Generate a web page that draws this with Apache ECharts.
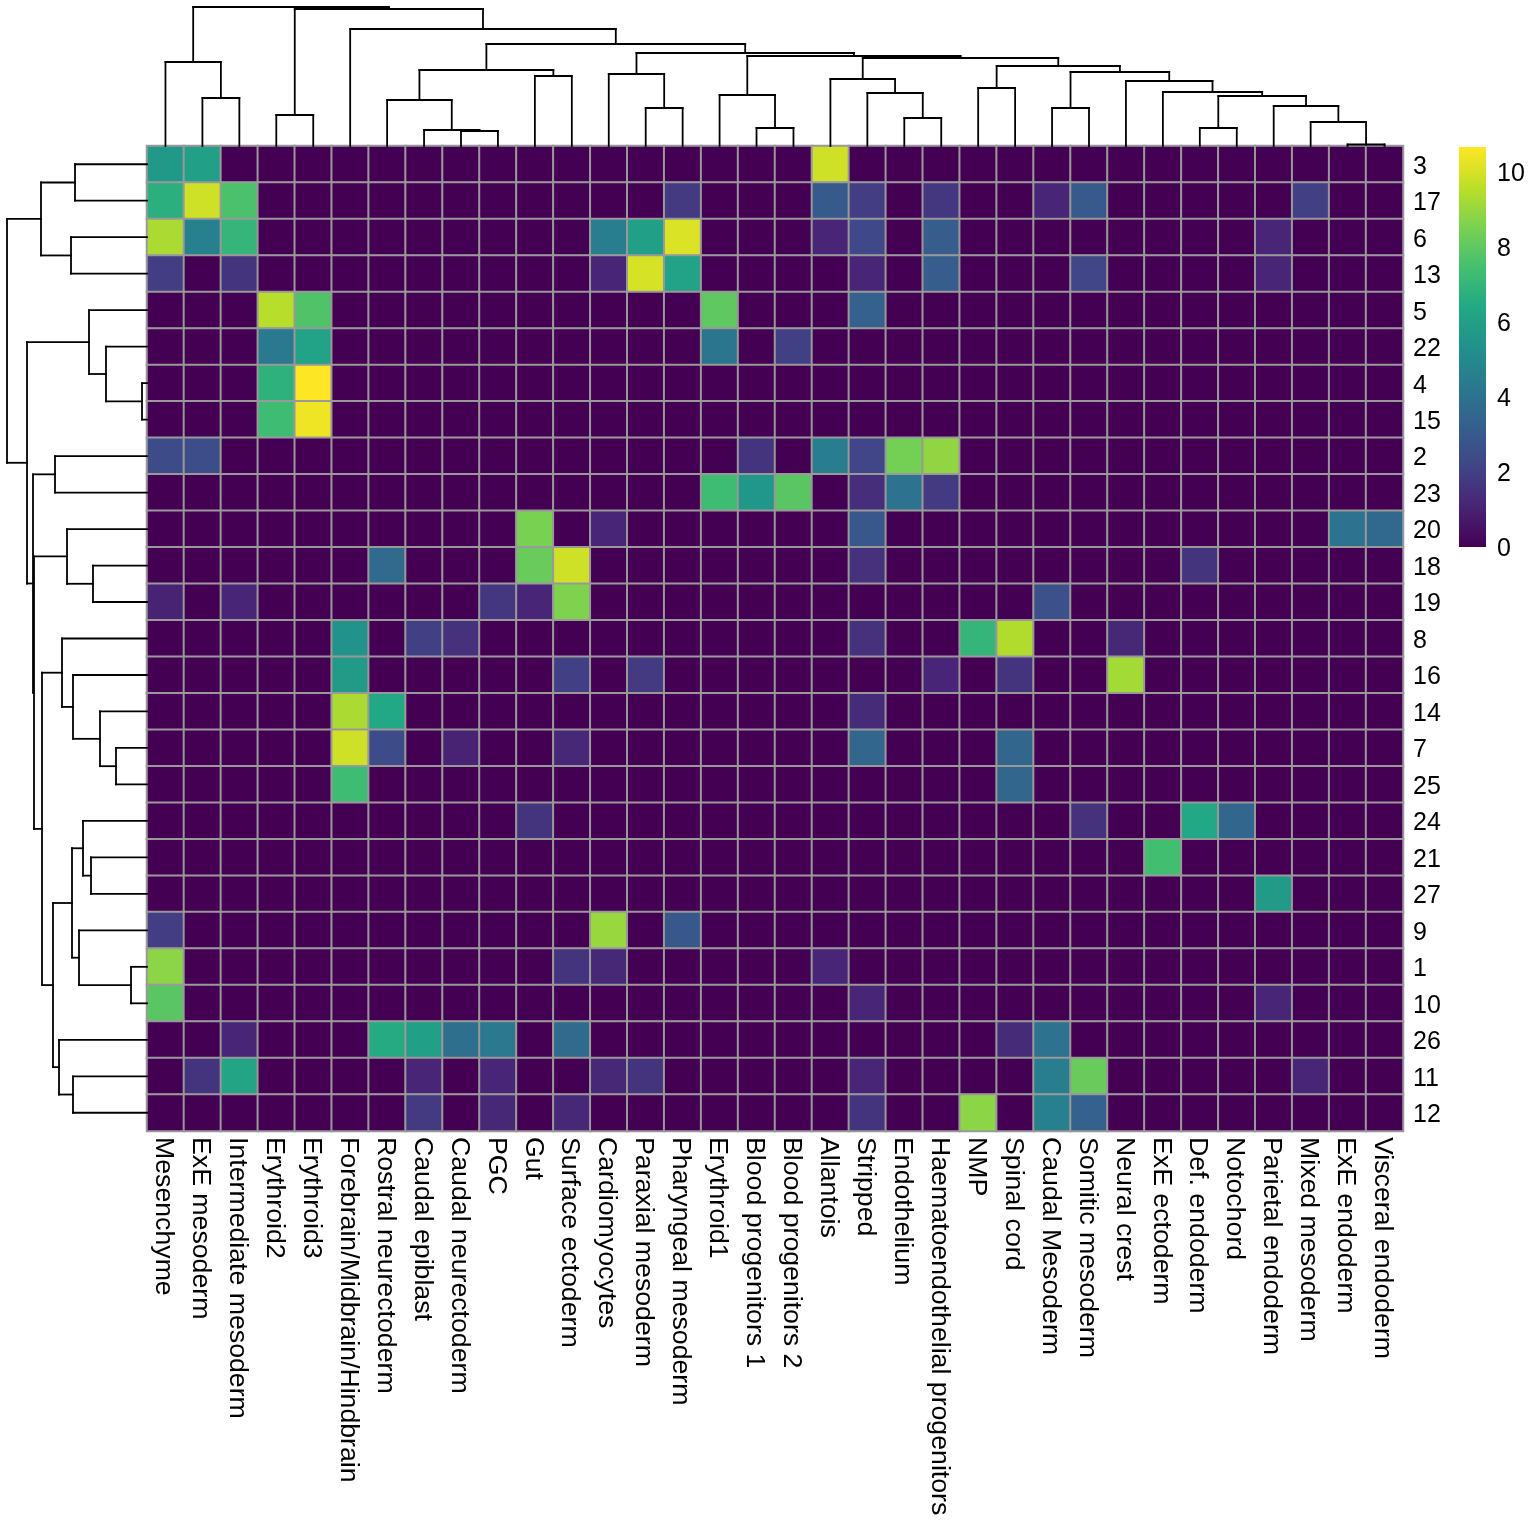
<!DOCTYPE html>
<html>
<head>
<meta charset="utf-8">
<title>Cluster heatmap</title>
<script src="https://cdn.jsdelivr.net/npm/echarts@6/dist/echarts.min.js"></script>
<style>
  html, body { margin: 0; background: #fff; }
  #chart { width: 1536px; height: 1536px; }
</style>
</head>
<body>
<div id="chart"></div>
<script>
// column and row labels, in drawing order
const colLabels = ['Mesenchyme','ExE mesoderm','Intermediate mesoderm','Erythroid2','Erythroid3',
  'Forebrain/Midbrain/Hindbrain','Rostral neurectoderm','Caudal epiblast','Caudal neurectoderm','PGC',
  'Gut','Surface ectoderm','Cardiomyocytes','Paraxial mesoderm','Pharyngeal mesoderm','Erythroid1',
  'Blood progenitors 1','Blood progenitors 2','Allantois','Stripped','Endothelium',
  'Haematoendothelial progenitors','NMP','Spinal cord','Caudal Mesoderm','Somitic mesoderm',
  'Neural crest','ExE ectoderm','Def. endoderm','Notochord','Parietal endoderm','Mixed mesoderm',
  'ExE endoderm','Visceral endoderm'];
const rowLabels = ['3','17','6','13','5','22','4','15','2','23','20','18','19','8','16','14','7','25',
  '24','21','27','9','1','10','26','11','12'];

// non zero cells of each row as [column index, value], everything else is 0
const rowCells = [
  [[0,5.7],[1,6.0],[18,9.9]],
  [[0,6.7],[1,9.9],[2,7.6],[14,1.8],[18,3.0],[19,1.9],[21,1.7],[24,1.1],[25,3.0],[31,2.0]],
  [[0,9.3],[1,4.6],[2,7.0],[12,4.5],[13,6.0],[14,10.1],[18,1.1],[19,2.3],[21,3.1],[30,1.1]],
  [[0,1.9],[2,1.6],[12,1.1],[13,10.0],[14,6.1],[19,1.1],[21,3.1],[25,2.2],[30,1.1]],
  [[3,9.5],[4,7.7],[15,8.0],[19,3.3]],
  [[3,4.3],[4,6.1],[15,4.2],[17,2.0]],
  [[3,6.8],[4,10.66]],
  [[3,7.3],[4,10.45]],
  [[0,2.4],[1,2.5],[16,1.6],[18,4.5],[19,2.2],[20,8.4],[21,8.9]],
  [[15,7.3],[16,5.6],[17,7.9],[19,1.4],[20,4.0],[21,1.8]],
  [[10,8.5],[12,1.1],[19,2.9],[32,4.0],[33,3.6]],
  [[6,3.7],[10,8.2],[11,9.9],[19,1.5],[28,1.6]],
  [[0,1.0],[2,1.1],[9,1.7],[10,1.1],[11,8.6],[24,2.6]],
  [[5,5.4],[7,2.0],[8,1.5],[19,1.5],[22,7.0],[23,9.4],[26,1.2]],
  [[5,5.8],[11,2.0],[13,1.8],[21,1.1],[23,1.6],[26,9.2]],
  [[5,9.3],[6,6.4],[19,1.3]],
  [[5,9.9],[6,2.4],[8,1.0],[11,1.2],[19,3.5],[23,3.5]],
  [[5,7.3],[23,3.5]],
  [[10,1.6],[25,1.5],[28,6.4],[29,3.5]],
  [[27,7.4]],
  [[30,5.8]],
  [[0,1.9],[12,9.0],[14,2.9]],
  [[0,8.8],[11,1.6],[12,1.2],[18,1.1]],
  [[0,7.9],[19,1.1],[30,1.1]],
  [[2,1.1],[6,6.5],[7,6.0],[8,3.9],[9,4.3],[11,3.7],[23,1.3],[24,4.0]],
  [[1,1.6],[2,6.2],[7,1.1],[9,1.1],[12,1.2],[13,1.6],[19,1.1],[24,4.5],[25,8.2],[31,1.1]],
  [[7,1.8],[9,1.2],[11,1.2],[19,1.6],[22,8.8],[24,4.6],[25,3.3]]
];

// dendrograms as nested [height, left, right], a plain number is a leaf index
const colTree = [139,
  [84, 0, [48, 1, 2]],
  [137,
    [31, 3, 4],
    [117, 5,
      [102,
        [76, [46, 6, [16, 7, [15, 8, 9]]], [70, 10, 11]],
        [93,
          [72, 12, [38, 13, 14]],
          [90,
            [51, 15, [18, 16, 17]],
            [88,
              [67, 18, [53, 19, [28, 20, 21]]],
              [80,
                [58, 22, 23],
                [74,
                  [38, 24, 25],
                  [65, 26,
                    [54, 27,
                      [50, [18, 28, 29],
                        [40, 30, [24, 31, [1.5, 32, 33]]]]]]]]]]]]]]];
const rowTree = [140,
  [106, [72, 0, 1], [76, 2, 3]],
  [120,
    [58, 4, [41, 5, [5, 6, 7]]],
    [114,
      [92, 8, 9],
      [113,
        [80, 10, [54, 11, 12]],
        [105,
          [85, 13, [74, 14, [47, 15, [31, 16, 17]]]],
          [94,
            [75, [64, 18, [56, 19, 20]], [68, 21, [16, 22, 23]]],
            [88, 24, [74, 25, 26]]]]]]]];

const viridis = ['#440154','#482475','#414487','#355f8d','#2a788e','#21918c','#22a884','#44bf70','#7ad151','#bddf26','#fde725'];
const colorMax = 10.66;
const colorTicks = [0, 2, 4, 6, 8, 10];

// heatmap box and text settings
const box = { left: 147, top: 146, width: 1256, height: 985 };
const labelFont = { fontFamily: 'Liberation Sans', fontSize: 25, color: '#000' };

const cellData = [];
rowLabels.forEach((r, i) => {
  colLabels.forEach((c, j) => {
    const hit = rowCells[i].find(d => d[0] === j);
    cellData.push([j, i, hit ? hit[1] : 0]);
  });
});

// walk a tree and collect the three segments of each merge
function treeSegments(node, out) {
  if (typeof node === 'number') return { pos: node, h: 0 };
  const a = treeSegments(node[1], out);
  const b = treeSegments(node[2], out);
  const h = node[0];
  out.push([a.pos, a.h, a.pos, h], [a.pos, h, b.pos, h], [b.pos, b.h, b.pos, h]);
  return { pos: (a.pos + b.pos) / 2, h: h };
}
const colSegs = [];
treeSegments(colTree, colSegs);
const rowSegs = [];
treeSegments(rowTree, rowSegs);

function drawSeg(params, api) {
  const p = api.coord([api.value(0), api.value(1)]);
  const q = api.coord([api.value(2), api.value(3)]);
  return {
    type: 'line',
    shape: { x1: p[0], y1: p[1], x2: q[0], y2: q[1] },
    style: { stroke: '#000', lineWidth: 1.8, lineCap: 'square' }
  };
}

const myChart = echarts.init(document.getElementById('chart'), null, { renderer: 'canvas' });
myChart.setOption({
  backgroundColor: '#fff',
  animation: false,
  grid: [
    { left: box.left, top: box.top, width: box.width, height: box.height },
    { left: box.left, top: 0, width: box.width, height: box.top },
    { left: 0, top: box.top, width: box.left, height: box.height },
    { left: 1459, top: 147, width: 27, height: 400 }
  ],
  xAxis: [
    {
      gridIndex: 0, type: 'category', data: colLabels, position: 'bottom',
      axisLine: { show: false }, axisTick: { show: false }, splitLine: { show: false },
      // verticalAlign top with a small lineHeight nudges the text off the cell centre
      axisLabel: Object.assign({}, labelFont, { interval: 0, rotate: -90, margin: 6, fontSize: 26.7, verticalAlign: 'top', lineHeight: 4 })
    },
    { gridIndex: 1, type: 'value', min: -0.5, max: colLabels.length - 0.5, show: false },
    { gridIndex: 2, type: 'value', min: 0, max: box.left, inverse: true, show: false },
    { gridIndex: 3, type: 'category', data: ['scale'], show: false }
  ],
  yAxis: [
    {
      gridIndex: 0, type: 'category', data: rowLabels, inverse: true, position: 'right',
      axisLine: { show: false }, axisTick: { show: false }, splitLine: { show: false },
      axisLabel: Object.assign({ interval: 0, margin: 10, align: 'left', verticalAlign: 'top', lineHeight: 5 }, labelFont)
    },
    { gridIndex: 1, type: 'value', min: 0, max: box.top, show: false },
    { gridIndex: 2, type: 'value', min: -0.5, max: rowLabels.length - 0.5, inverse: true, show: false },
    {
      gridIndex: 3, type: 'value', min: 0, max: colorMax, interval: 2, position: 'right',
      axisLine: { show: false }, axisTick: { show: false }, splitLine: { show: false },
      axisLabel: Object.assign({
        margin: 11, align: 'left', showMaxLabel: false, verticalAlign: 'top', lineHeight: 4,
        formatter: v => colorTicks.includes(v) ? String(v) : ''
      }, labelFont)
    }
  ],
  visualMap: {
    type: 'continuous', show: false, seriesIndex: 0, dimension: 2, min: 0, max: colorMax,
    inRange: { color: viridis }
  },
  series: [
    {
      type: 'heatmap', xAxisIndex: 0, yAxisIndex: 0, data: cellData, progressive: 0,
      itemStyle: { borderColor: '#999999', borderWidth: 2 },
      emphasis: { disabled: true }
    },
    {
      type: 'custom', xAxisIndex: 1, yAxisIndex: 1, data: colSegs, renderItem: drawSeg,
      clip: false, silent: true, encode: { x: [0, 2], y: [1, 3] }
    },
    {
      type: 'custom', xAxisIndex: 2, yAxisIndex: 2,
      data: rowSegs.map(s => [s[1], s[0], s[3], s[2]]), renderItem: drawSeg,
      clip: false, silent: true, encode: { x: [0, 2], y: [1, 3] }
    },
    {
      // colour bar, square corners unlike the visualMap handle
      type: 'bar', xAxisIndex: 3, yAxisIndex: 3, data: [colorMax], barWidth: '100%', silent: true,
      itemStyle: {
        color: new echarts.graphic.LinearGradient(0, 1, 0, 0,
          viridis.map((c, i) => ({ offset: i / (viridis.length - 1), color: c })))
      }
    }
  ]
});
</script>
</body>
</html>
